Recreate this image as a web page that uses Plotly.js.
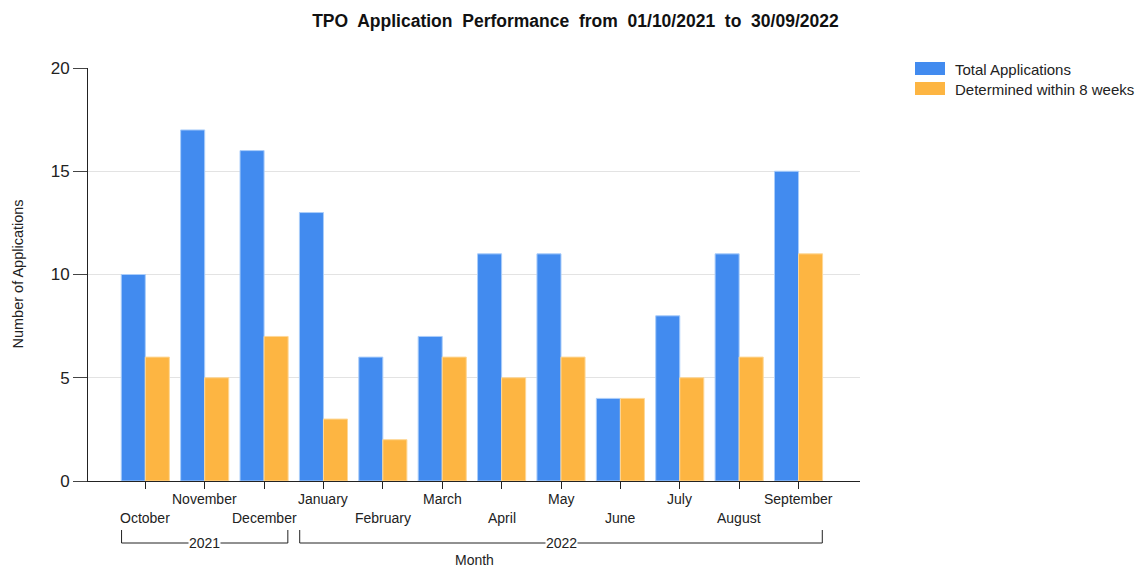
<!DOCTYPE html>
<html>
<head>
<meta charset="utf-8">
<script src="https://cdn.plot.ly/plotly-3.0.1.min.js"></script>
<style>html,body{margin:0;padding:0;background:#fff;}#chart{width:1144px;height:568px;}</style>
</head>
<body>
<div id="chart"></div>
<script>
const months = ["October","November","December","January","February","March","April","May","June","July","August","September"];
const totalApplications = [10,17,16,13,6,7,11,11,4,8,11,15];
const determinedWithin8Weeks = [6,5,7,3,2,6,5,6,4,5,6,11];
const seriesNames = ["Total Applications", "Determined within 8 weeks"];
const yearGroups = [
  {label: "2021", first: 0, last: 2},
  {label: "2022", first: 3, last: 11}
];
const yTicks = [0,5,10,15,20];

const FONT = "Liberation Sans, Arial, sans-serif";
const BLUE = "rgb(66,139,239)";
const ORANGE = "rgb(253,181,66)";
const TXT = "#222";

const traces = [
  {type: "bar", name: seriesNames[0], x: months, y: totalApplications,
   marker: {color: BLUE, line: {color: "rgba(170,205,250,1)", width: 1}}},
  {type: "bar", name: seriesNames[1], x: months, y: determinedWithin8Weeks,
   marker: {color: ORANGE, line: {color: "rgba(254,215,150,1)", width: 1}}}
];

const annotations = [];
months.forEach((m, i) => {
  annotations.push({
    x: m, xref: "x", y: 0, yref: "paper", yanchor: "middle", xanchor: "center",
    yshift: (i % 2 === 0) ? -37 : -18,
    text: m, showarrow: false, font: {family: FONT, size: 14, color: TXT}
  });
});
const shapes = [];
yearGroups.forEach(g => {
  const x0 = g.first - 0.4, x1 = g.last + 0.4;
  const common = {type: "line", xref: "x", yref: "paper", ysizemode: "pixel", yanchor: 0,
                  line: {color: "#222", width: 1}};
  shapes.push(Object.assign({}, common, {x0: x0, x1: x0, y0: -49, y1: -62}));
  shapes.push(Object.assign({}, common, {x0: x1, x1: x1, y0: -49, y1: -62}));
  shapes.push(Object.assign({}, common, {x0: x0, x1: x1, y0: -62, y1: -62}));
  annotations.push({
    x: (g.first + g.last) / 2, xref: "x", y: 0, yref: "paper", yanchor: "middle", xanchor: "center",
    yshift: -62, text: g.label, showarrow: false, bgcolor: "#fff", borderpad: 0,
    font: {family: FONT, size: 14, color: TXT}
  });
});
annotations.push({
  x: 0.5, xref: "paper", y: 0, yref: "paper", yanchor: "middle", xanchor: "center",
  yshift: -79, text: "Month", showarrow: false, font: {family: FONT, size: 14, color: TXT}
});
annotations.push({
  x: 0, xref: "paper", y: 0.5, yref: "paper", xanchor: "center", yanchor: "middle",
  xshift: -71, textangle: -90, text: "Number of Applications", showarrow: false,
  font: {family: FONT, size: 14.5, color: TXT}
});

// Custom legend (swatch + label), positioned in pixels relative to the plot's top-right
const legendColors = [BLUE, ORANGE];
seriesNames.forEach((name, i) => {
  shapes.push({type: "rect", xref: "paper", yref: "paper", xsizemode: "pixel", ysizemode: "pixel",
    xanchor: 1, yanchor: 1, x0: 55, x1: 85, y0: 6 - 20 * i, y1: -7 - 20 * i,
    fillcolor: legendColors[i], line: {width: 0}});
  annotations.push({x: 1, xref: "paper", y: 1, yref: "paper", xanchor: "left", yanchor: "middle",
    xshift: 93, yshift: -1 - 20 * i, text: name, showarrow: false,
    font: {family: FONT, size: 15, color: TXT}});
});

const layout = {
  width: 1144, height: 568,
  margin: {l: 88, r: 284, t: 68, b: 87, pad: 0},
  paper_bgcolor: "#fff", plot_bgcolor: "#fff",
  font: {family: FONT, color: TXT},
  title: {text: "<b>TPO\u00a0 Application\u00a0 Performance\u00a0 from\u00a0 01/10/2021\u00a0 to\u00a0 30/09/2022</b>",
          x: 0.503, xref: "container", xanchor: "center", y: 0.963, yanchor: "middle",
          font: {family: FONT, size: 17.5, color: "#111"}},
  barmode: "group", bargap: 0.19, bargroupgap: 0,
  xaxis: {type: "category", range: [-0.965, 12.035], showgrid: false, zeroline: false,
          showline: true, linecolor: "#222", linewidth: 1,
          ticks: "outside", ticklen: 7, tickcolor: "#222", showticklabels: false,
          fixedrange: true},
  yaxis: {range: [0, 20], tickvals: yTicks, showgrid: true, gridcolor: "#e3e3e3", gridwidth: 1,
          zeroline: false, showline: true, linecolor: "#222", linewidth: 1,
          ticks: "outside", ticklen: 14, tickcolor: "#444",
          tickfont: {family: FONT, size: 17, color: TXT}, fixedrange: true},
  showlegend: false,
  annotations: annotations,
  shapes: shapes
};

Plotly.newPlot("chart", traces, layout, {staticPlot: true, displayModeBar: false});
</script>
</body>
</html>
